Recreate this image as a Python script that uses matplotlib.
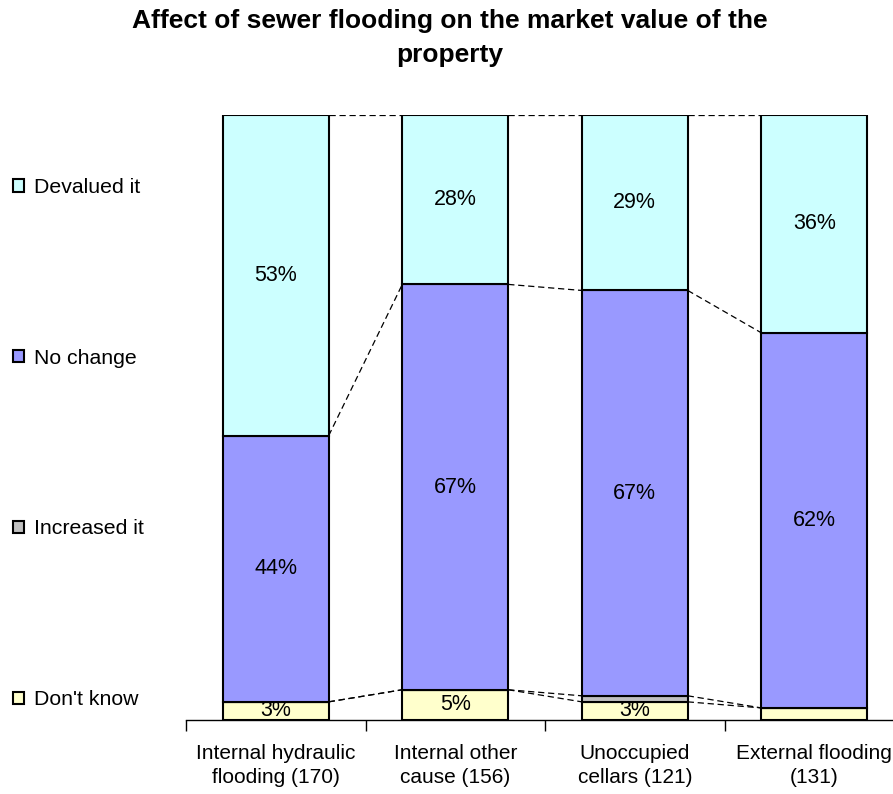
import matplotlib.pyplot as plt
import numpy as np

plt.rcParams['font.family'] = ['Liberation Sans', 'DejaVu Sans']

categories = ['Internal hydraulic\nflooding (170)', 'Internal other\ncause (156)',
              'Unoccupied\ncellars (121)', 'External flooding\n(131)']
series = ["Don't know", 'Increased it', 'No change', 'Devalued it']
dont_know = [3, 5, 3, 2]
increased = [0, 0, 1, 0]
no_change = [44, 67, 67, 62]
devalued = [53, 28, 29, 36]
colors = ['#FFFFCC', '#C0C0C0', '#9999FF', '#CCFFFF']

values = np.array([dont_know, increased, no_change, devalued])
x = np.arange(len(categories))
w = 0.59

fig = plt.figure(figsize=(8.93, 7.94), dpi=100)
ax = fig.add_axes([186 / 893, 1 - 720 / 794, 718 / 893, 605 / 794])

bottom = np.zeros(len(categories))
handles = []
for vals, name, c in zip(values, series, colors):
    bars = ax.bar(x, vals, w, bottom=bottom, color=c, edgecolor='black', linewidth=1.5, label=name)
    handles.append(bars)
    for xi, v, b in zip(x, vals, bottom):
        if v >= 3:
            ax.text(xi, b + v / 2, f'{v}%', ha='center', va='center', fontsize=15.5)
    bottom = bottom + vals

# series lines between neighbouring bars
tops = np.cumsum(values, axis=0)
for i in range(len(categories) - 1):
    for row in tops:
        ax.plot([x[i] + w / 2, x[i + 1] - w / 2], [row[i], row[i + 1]],
                color='black', linestyle=(0, (5, 3)), linewidth=0.9)

ax.set_xlim(-0.5, len(categories) - 0.5)
ax.set_ylim(0, 100)
ax.set_xticks(x)
ax.set_xticklabels(categories, fontsize=15, linespacing=1.35)
ax.set_xticks(np.arange(-0.5, len(categories)), minor=True)
ax.tick_params(axis='x', which='major', length=0, pad=17)
ax.tick_params(axis='x', which='minor', length=8, width=1, direction='out')
ax.set_yticks([])
for s in ['top', 'right', 'left']:
    ax.spines[s].set_visible(False)
ax.spines['bottom'].set_linewidth(1)

fig.legend(handles[::-1], series[::-1], loc='upper left', bbox_to_anchor=(2 / 893, 1 - 167 / 794),
           frameon=False, fontsize=15.3, handlelength=0.55, handleheight=0.55,
           handletextpad=0.45, labelspacing=7.15, borderpad=0)

fig.text(0.504, 1 - 38 / 794, 'Affect of sewer flooding on the market value of the\nproperty',
         ha='center', va='center', fontsize=19, fontweight='bold', linespacing=1.5)

fig.savefig('out.png', dpi=100)
